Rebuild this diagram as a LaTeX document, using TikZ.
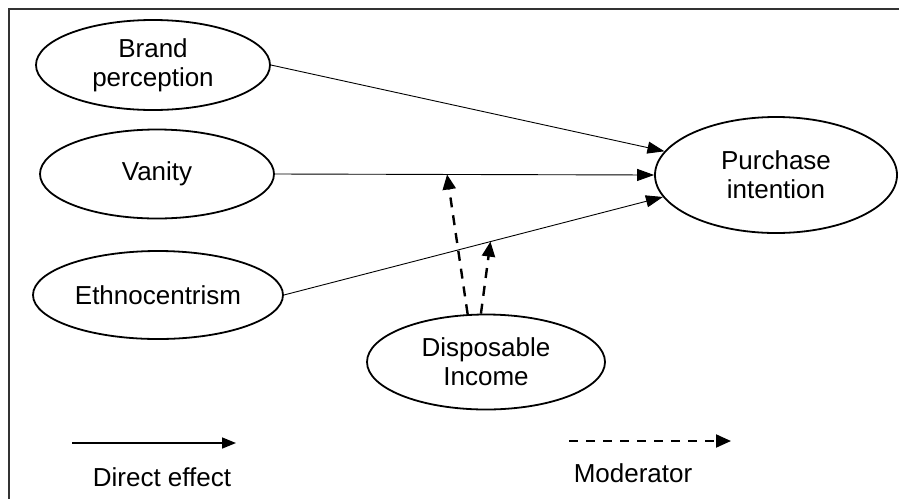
\documentclass[tikz,border=0pt]{standalone}
\usepackage{fontspec}
\setmainfont{Liberation Sans}
\usetikzlibrary{shapes.geometric,arrows.meta,calc}
\tikzset{
  construct/.style={ellipse, draw=black, line width=1.8pt, inner sep=0pt, align=center,
    font=\fontsize{26}{29}\selectfont},
  direct/.style={draw=black, line width=0.9pt, -{Triangle[length=17pt,width=12pt]}},
  moder/.style={draw=black, line width=2.4pt, dash pattern=on 10pt off 8pt,
    -{Triangle[length=15pt,width=13pt]}},
  legtext/.style={font=\fontsize{26}{29}\selectfont, inner sep=0pt},
}
\begin{document}
\begin{tikzpicture}[x=1pt,y=-1pt]
\useasboundingbox (0,0) rectangle (899,499);
\draw[line width=1.5pt, draw=black!80] (899,9) -- (9,9) -- (9,499);

\node[construct, minimum width=234pt, minimum height=90pt] (brand) at (153,65) {Brand\\perception};
\node[construct, minimum width=234pt, minimum height=89pt] (vanity) at (157,174) {Vanity};
\node[construct, minimum width=250pt, minimum height=88pt] (ethno) at (158,295) {Ethnocentrism};
\node[construct, minimum width=242pt, minimum height=116pt] (purchase) at (776,175) {Purchase\\intention};
\node[construct, minimum width=238pt, minimum height=95pt] (income) at (486,362) {Disposable\\Income};

\draw[direct] (brand.east) -- (purchase.168);
\draw[direct] (vanity.east) -- (purchase.west);
\draw[direct] (ethno.east) -- (purchase.191);

\coordinate (m1) at ($(vanity.east)!0.454!(purchase.west)$);
\coordinate (m2) at ($(ethno.east)!0.545!(purchase.191)$);
\draw[moder] (income.111) -- (m1);
\draw[moder] (income.96) -- (m2);

\coordinate (l1a) at (72,443);
\coordinate (l1b) at (236,443);
\draw[direct, line width=1.6pt, -{Triangle[length=14pt,width=11pt]}] (l1a) -- (l1b);
\node[legtext] (ltxt1) at (162,477) {Direct effect};

\coordinate (l2a) at (569,441);
\coordinate (l2b) at (731,441);
\draw[moder, line width=2pt, dash pattern=on 9pt off 8pt] (l2a) -- (l2b);
\node[legtext] (ltxt2) at (633,473) {Moderator};
\end{tikzpicture}
\end{document}
